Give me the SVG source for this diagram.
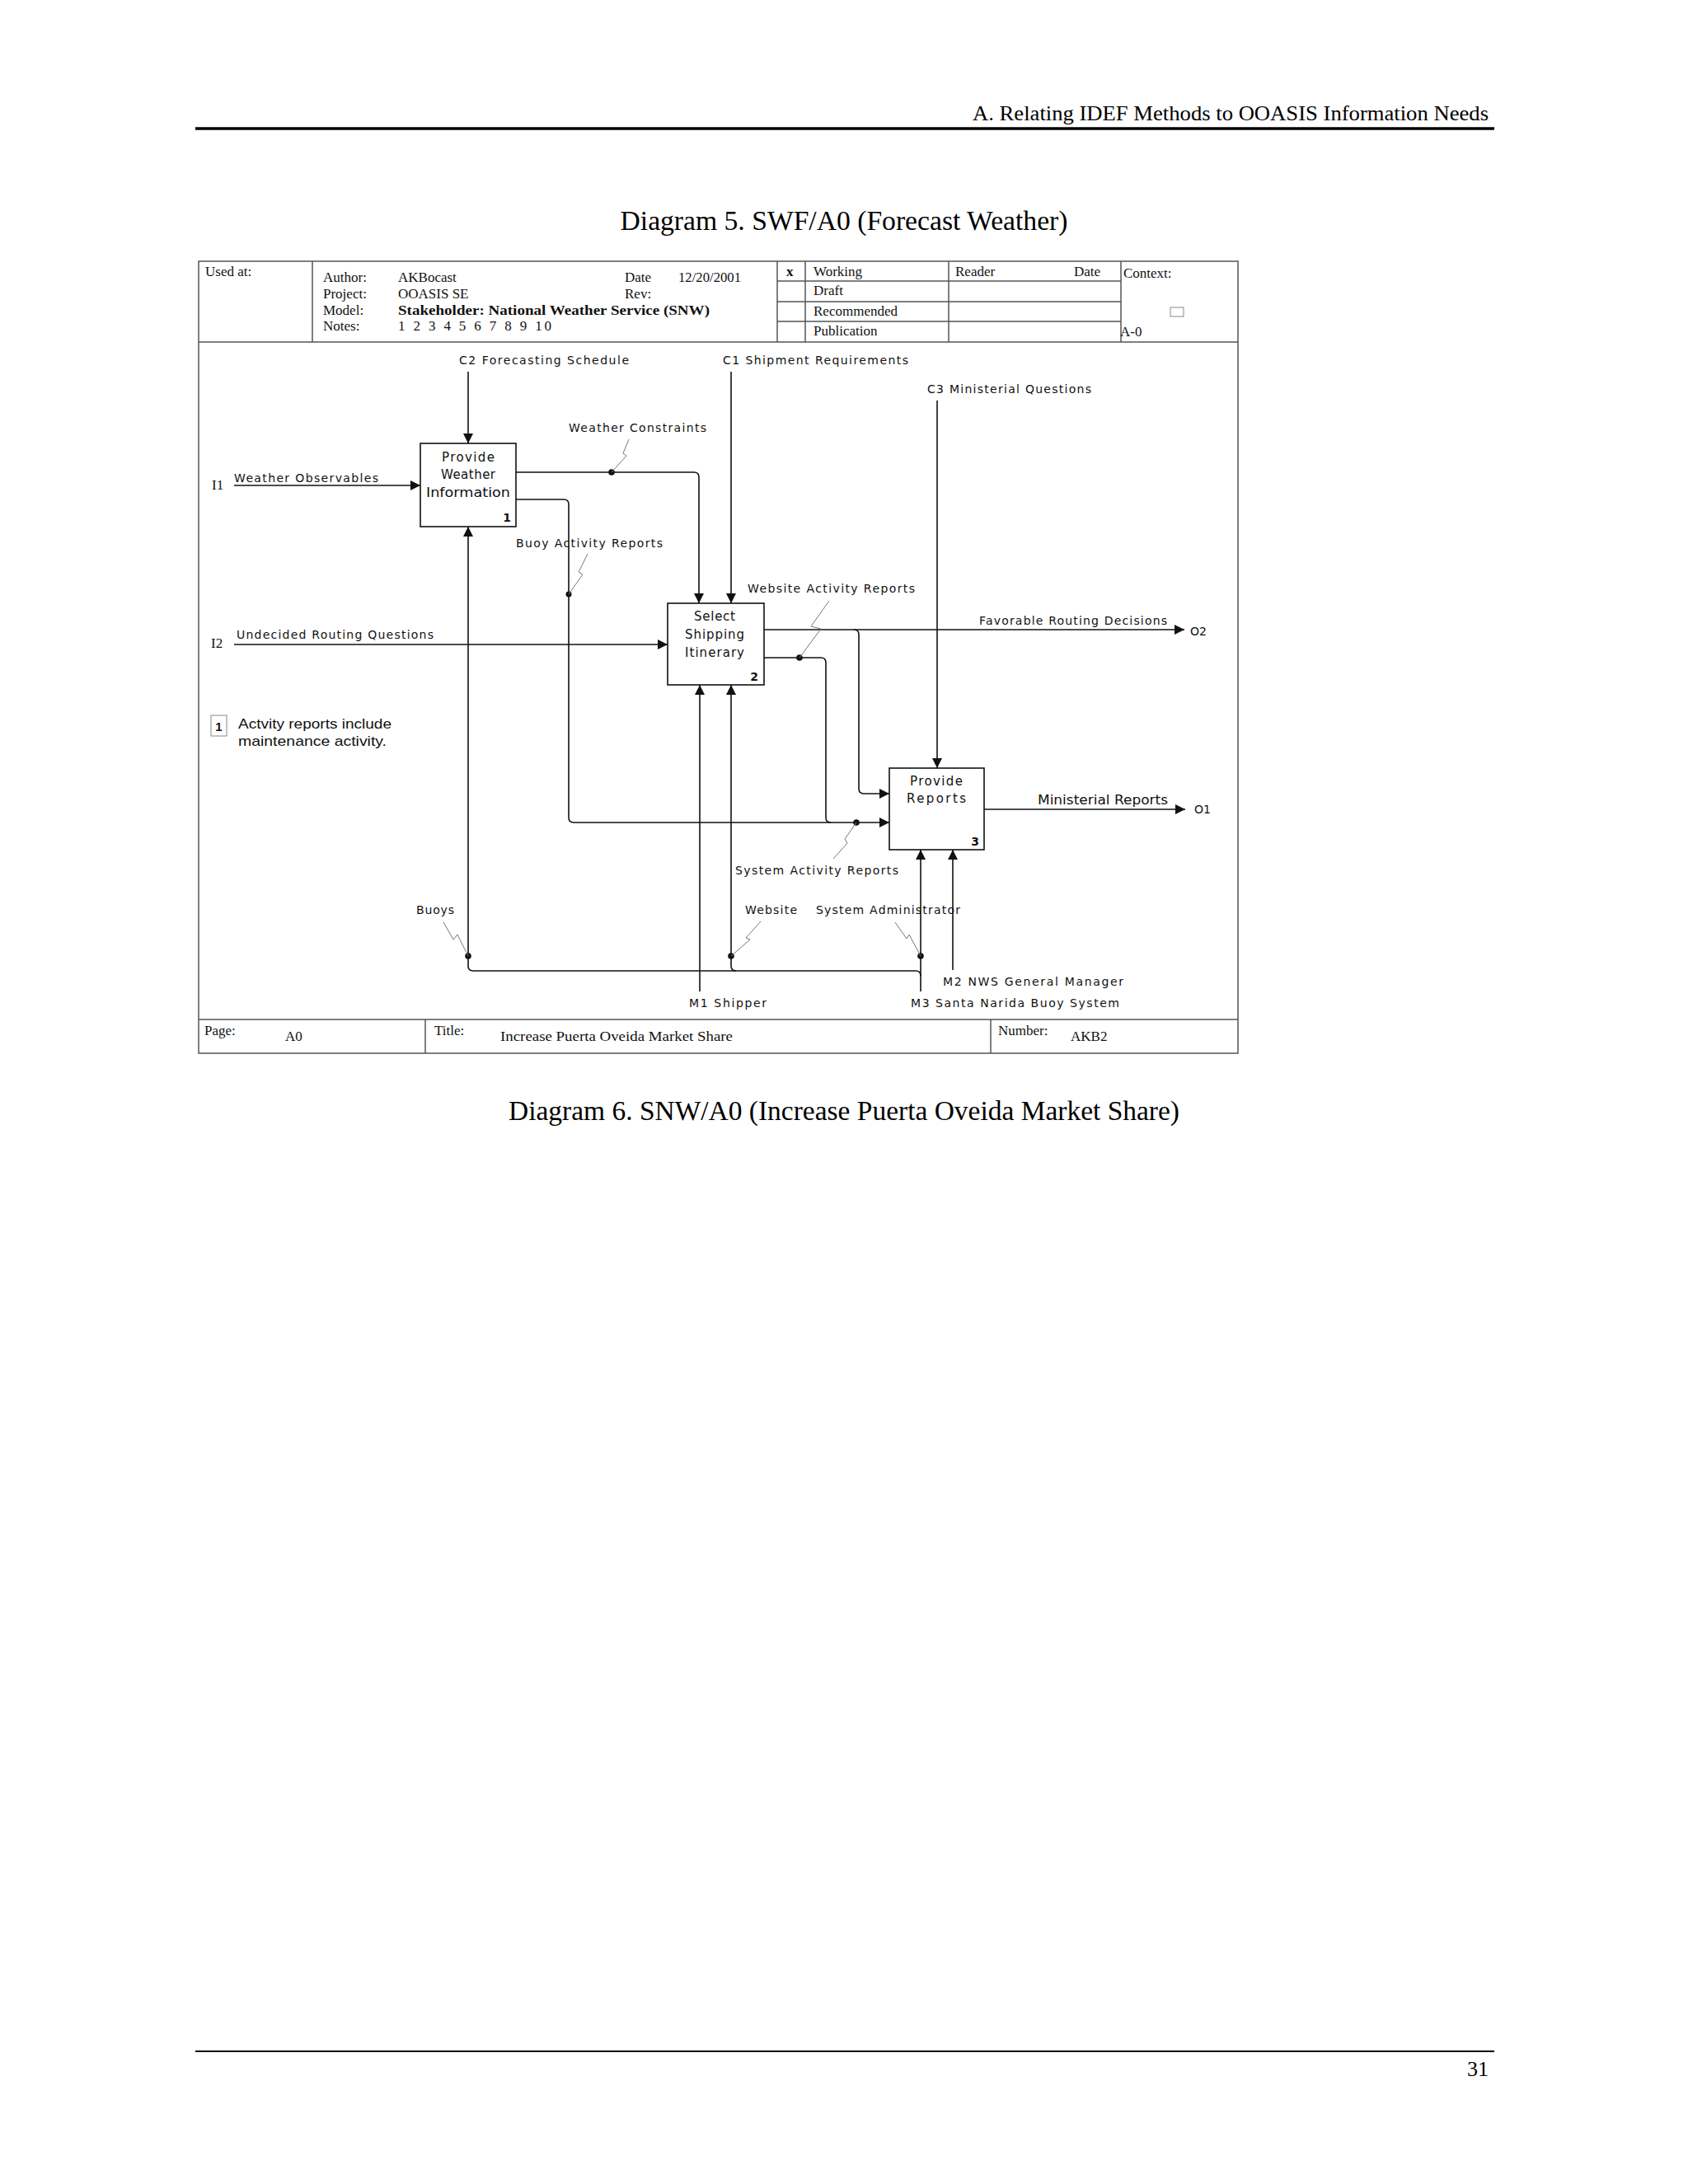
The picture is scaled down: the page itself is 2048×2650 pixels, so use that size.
<svg xmlns="http://www.w3.org/2000/svg" width="2048" height="2650" viewBox="0 0 2048 2650">
<style>
.pg{font-family:"Liberation Serif","Times New Roman",serif;fill:#000}
.tb{font-family:"Liberation Serif","Times New Roman",serif;font-size:17px;fill:#111}
.lb{font-family:"DejaVu Sans",Verdana,sans-serif;font-size:14px;fill:#111}
.bx{font-family:"DejaVu Sans",Verdana,sans-serif;font-size:15px;fill:#111}
.num{font-family:"DejaVu Sans",Verdana,sans-serif;font-size:14px;font-weight:bold;fill:#111}
.frame{fill:none;stroke:#555;stroke-width:1.5}
.box{fill:#fff;stroke:#111;stroke-width:1.6}
.ar{fill:none;stroke:#111;stroke-width:1.6}
.sq{fill:none;stroke:#777;stroke-width:1}
.dot{fill:#111}
</style>
<defs>
<marker id="ah" viewBox="0 0 10 10" refX="10" refY="5" markerWidth="13" markerHeight="12" markerUnits="userSpaceOnUse" orient="auto">
<path d="M0,0 L10,5 L0,10 z" fill="#111"/>
</marker>
</defs>
<rect width="2048" height="2650" fill="#fff"/>

<!-- page header / footer -->
<g id="page">
<text class="pg" x="1806" y="146" font-size="26" text-anchor="end" textLength="626" lengthAdjust="spacingAndGlyphs">A. Relating IDEF Methods to OOASIS Information Needs</text>
<line x1="237" y1="156" x2="1813" y2="156" stroke="#000" stroke-width="3.5"/>
<text class="pg" x="1024" y="279" font-size="33" text-anchor="middle" textLength="543" lengthAdjust="spacingAndGlyphs">Diagram 5. SWF/A0 (Forecast Weather)</text>
<text class="pg" x="1024" y="1359" font-size="33" text-anchor="middle" textLength="814" lengthAdjust="spacingAndGlyphs">Diagram 6. SNW/A0 (Increase Puerta Oveida Market Share)</text>
<line x1="237" y1="2489" x2="1813" y2="2489" stroke="#000" stroke-width="2"/>
<text class="pg" x="1806" y="2519" font-size="26" text-anchor="end">31</text>
</g>

<!-- frame and title block -->
<g id="titleblock">
<rect class="frame" x="241" y="317" width="1261" height="961"/>
<line class="frame" x1="241" y1="415" x2="1502" y2="415"/>
<line class="frame" x1="241" y1="1237" x2="1502" y2="1237"/>
<line class="frame" x1="379" y1="317" x2="379" y2="415"/>
<line class="frame" x1="943" y1="317" x2="943" y2="415"/>
<line class="frame" x1="977" y1="317" x2="977" y2="415"/>
<line class="frame" x1="1151" y1="317" x2="1151" y2="415"/>
<line class="frame" x1="1360" y1="317" x2="1360" y2="415"/>
<line class="frame" x1="943" y1="341" x2="1360" y2="341"/>
<line class="frame" x1="943" y1="366" x2="1360" y2="366"/>
<line class="frame" x1="943" y1="390" x2="1360" y2="390"/>
<line class="frame" x1="516" y1="1237" x2="516" y2="1278"/>
<line class="frame" x1="1202" y1="1237" x2="1202" y2="1278"/>
<rect x="1420" y="373" width="16" height="11" fill="#fff" stroke="#888" stroke-width="1"/>

<text class="tb" x="249" y="335">Used at:</text>
<text class="tb" x="392" y="342">Author:</text>
<text class="tb" x="392" y="362">Project:</text>
<text class="tb" x="392" y="382">Model:</text>
<text class="tb" x="392" y="401">Notes:</text>
<text class="tb" x="483" y="342">AKBocast</text>
<text class="tb" x="483" y="362">OOASIS SE</text>
<text class="tb" x="483" y="382" font-weight="bold" textLength="378" lengthAdjust="spacingAndGlyphs">Stakeholder: National Weather Service (SNW)</text>
<text class="tb" x="483" y="401" textLength="186" lengthAdjust="spacing">1 2 3 4 5 6 7 8 9 10</text>
<text class="tb" x="758" y="342">Date</text>
<text class="tb" x="823" y="342" textLength="76" lengthAdjust="spacingAndGlyphs">12/20/2001</text>
<text class="tb" x="758" y="362">Rev:</text>
<text class="tb" x="954" y="335" font-weight="bold">x</text>
<text class="tb" x="987" y="335">Working</text>
<text class="tb" x="987" y="358">Draft</text>
<text class="tb" x="987" y="383">Recommended</text>
<text class="tb" x="987" y="407">Publication</text>
<text class="tb" x="1159" y="335">Reader</text>
<text class="tb" x="1303" y="335">Date</text>
<text class="tb" x="1363" y="337">Context:</text>
<text class="tb" x="1359" y="408">A-0</text>

<text class="tb" x="248" y="1256">Page:</text>
<text class="tb" x="346" y="1263">A0</text>
<text class="tb" x="527" y="1256">Title:</text>
<text class="tb" x="607" y="1263" textLength="282" lengthAdjust="spacingAndGlyphs">Increase Puerta Oveida Market Share</text>
<text class="tb" x="1211" y="1256">Number:</text>
<text class="tb" x="1299" y="1263">AKB2</text>
</g>

<!-- note -->
<g id="note1">
<rect x="256" y="868" width="19" height="25" fill="#fff" stroke="#888" stroke-width="1"/>
<text x="265.5" y="887" text-anchor="middle" font-family="Liberation Sans, Arial, sans-serif" font-size="15" font-weight="bold" fill="#111">1</text>
<text x="289" y="884" font-family="Liberation Sans, Arial, sans-serif" font-size="17" fill="#111" textLength="186" lengthAdjust="spacingAndGlyphs">Actvity reports include</text>
<text x="289" y="905" font-family="Liberation Sans, Arial, sans-serif" font-size="17" fill="#111" textLength="180" lengthAdjust="spacingAndGlyphs">maintenance activity.</text>
</g>

<!-- connectors -->
<g id="connectors">
<path class="ar" d="M568,451 V538" marker-end="url(#ah)"/>
<path class="ar" d="M284,589 H510" marker-end="url(#ah)"/>
<path class="ar" d="M626,573 H842 Q848,573 848,579 V732" marker-end="url(#ah)"/>
<path class="ar" d="M626,606 H684 Q690,606 690,612 V992 Q690,998 696,998 H1079" marker-end="url(#ah)"/>
<path class="ar" d="M887,451 V732" marker-end="url(#ah)"/>
<path class="ar" d="M284,782 H810" marker-end="url(#ah)"/>
<path class="ar" d="M927,764 H1437" marker-end="url(#ah)"/>
<path class="ar" d="M1036,764 Q1042,764 1042,770 V957 Q1042,963 1048,963 H1079" marker-end="url(#ah)"/>
<path class="ar" d="M927,798 H996 Q1002,798 1002,804 V992 Q1002,998 1008,998"/>
<path class="ar" d="M1137,486 V932" marker-end="url(#ah)"/>
<path class="ar" d="M1194,982 H1438" marker-end="url(#ah)"/>
<path class="ar" d="M1117,1203 V1031" marker-end="url(#ah)"/>
<path class="ar" d="M1117,1184 Q1117,1178 1111,1178 H574 Q568,1178 568,1172 V639" marker-end="url(#ah)"/>
<path class="ar" d="M893,1178 Q887,1178 887,1172 V831" marker-end="url(#ah)"/>
<path class="ar" d="M849,1203 V831" marker-end="url(#ah)"/>
<path class="ar" d="M1156,1177 V1031" marker-end="url(#ah)"/>

<circle class="dot" cx="742" cy="573" r="3.8"/>
<circle class="dot" cx="690" cy="721" r="3.5"/>
<circle class="dot" cx="970" cy="798" r="3.8"/>
<circle class="dot" cx="1039" cy="998" r="3.8"/>
<circle class="dot" cx="568" cy="1160" r="3.8"/>
<circle class="dot" cx="887" cy="1160" r="3.8"/>
<circle class="dot" cx="1117" cy="1160" r="3.8"/>

<path class="sq" d="M763,533 L756,550 L760,553 L742,573"/>
<path class="sq" d="M713,672 L702,694 L707,697 L690,721"/>
<path class="sq" d="M1006,729 L984,760 L996,763 L970,798"/>
<path class="sq" d="M1039,998 L1025,1018 L1028,1023 L1011,1042"/>
<path class="sq" d="M538,1119 L550,1140 L555,1134 L568,1160"/>
<path class="sq" d="M923,1118 L905,1138 L910,1140 L887,1160"/>
<path class="sq" d="M1086,1119 L1100,1139 L1103,1134 L1117,1160"/>
</g>

<!-- arrow labels -->
<g id="labels">
<text class="lb" x="557" y="442" textLength="206" lengthAdjust="spacing">C2  Forecasting Schedule</text>
<text class="lb" x="877" y="442" textLength="225" lengthAdjust="spacing">C1  Shipment Requirements</text>
<text class="lb" x="1125" y="477" textLength="199" lengthAdjust="spacing">C3 Ministerial Questions</text>
<text class="lb" x="690" y="524" textLength="167" lengthAdjust="spacing">Weather Constraints</text>
<text class="tb" x="257" y="594" font-size="15">I1</text>
<text class="lb" x="284" y="585" textLength="175" lengthAdjust="spacing">Weather Observables</text>
<text class="lb" x="626" y="664" textLength="178" lengthAdjust="spacing">Buoy Activity Reports</text>
<text class="lb" x="907" y="719" textLength="203" lengthAdjust="spacing">Website Activity Reports</text>
<text class="lb" x="1188" y="758" textLength="228" lengthAdjust="spacing">Favorable Routing Decisions</text>
<text class="lb" x="1444" y="771">O2</text>
<text class="tb" x="256" y="786" font-size="15">I2</text>
<text class="lb" x="287" y="775" textLength="239" lengthAdjust="spacing">Undecided Routing Questions</text>
<text class="bx" x="1259" y="976" textLength="158" lengthAdjust="spacingAndGlyphs">Ministerial Reports</text>
<text class="lb" x="1449" y="987">O1</text>
<text class="lb" x="892" y="1061" textLength="198" lengthAdjust="spacing">System Activity Reports</text>
<text class="lb" x="505" y="1109" textLength="46" lengthAdjust="spacing">Buoys</text>
<text class="lb" x="904" y="1109" textLength="63" lengthAdjust="spacing">Website</text>
<text class="lb" x="990" y="1109" textLength="175" lengthAdjust="spacing">System Administrator</text>
<text class="lb" x="1144" y="1196" textLength="219" lengthAdjust="spacing">M2  NWS General Manager</text>
<text class="lb" x="836" y="1222" textLength="94" lengthAdjust="spacing">M1  Shipper</text>
<text class="lb" x="1105" y="1222" textLength="253" lengthAdjust="spacing">M3 Santa Narida Buoy System</text>
</g>

<!-- activity boxes -->
<g id="box1">
<rect class="box" x="510" y="538" width="116" height="101"/>
<text class="bx" x="568" y="560" text-anchor="middle" textLength="64" lengthAdjust="spacing">Provide</text>
<text class="bx" x="568" y="581" text-anchor="middle" textLength="66" lengthAdjust="spacing">Weather</text>
<text class="bx" x="568" y="603" text-anchor="middle" textLength="102" lengthAdjust="spacingAndGlyphs">Information</text>
<text class="num" x="620" y="633" text-anchor="end">1</text>
</g>
<g id="box2">
<rect class="box" x="810" y="732" width="117" height="99"/>
<text class="bx" x="867" y="753" text-anchor="middle" textLength="50" lengthAdjust="spacing">Select</text>
<text class="bx" x="867" y="775" text-anchor="middle" textLength="72" lengthAdjust="spacing">Shipping</text>
<text class="bx" x="867" y="797" text-anchor="middle" textLength="72" lengthAdjust="spacing">Itinerary</text>
<text class="num" x="920" y="826" text-anchor="end">2</text>
</g>
<g id="box3">
<rect class="box" x="1079" y="932" width="115" height="99"/>
<text class="bx" x="1136" y="953" text-anchor="middle" textLength="64" lengthAdjust="spacing">Provide</text>
<text class="bx" x="1136" y="974" text-anchor="middle" textLength="72" lengthAdjust="spacing">Reports</text>
<text class="num" x="1188" y="1026" text-anchor="end">3</text>
</g>
</svg>
